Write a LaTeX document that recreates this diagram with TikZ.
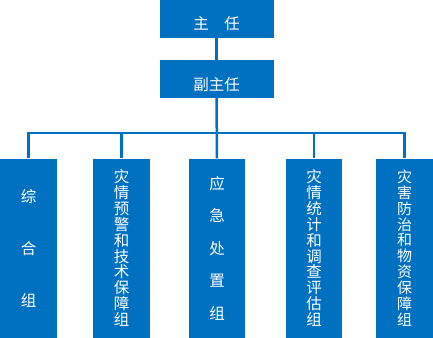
\documentclass[tikz,border=0pt]{standalone}
\usepackage{fontspec}
\setmainfont{Noto Sans CJK SC}
\usetikzlibrary{positioning}
\usepackage{xcolor}
\definecolor{orgblue}{RGB}{0,112,192}

\tikzset{
  headbox/.style={fill=orgblue, text=white, inner sep=0pt,
    minimum width=114pt, minimum height=38pt,
    font=\fontsize{15.5}{16}\selectfont, text height=22pt, text depth=0pt},
  groupbox/.style={fill=orgblue, text=white, inner sep=0pt, align=center,
    minimum width=57pt, minimum height=179pt},
  link/.style={draw=orgblue, line width=2.5pt}
}

\begin{document}
\begin{tikzpicture}[x=1pt, y=-1pt]
    \useasboundingbox (0,0) rectangle (433,337);
    % leadership
    \node[headbox] (zr) at (216.5,19) {主\hspace{1em}任};
    \node[headbox] (fzr) at (216.5,79) {副主任};
    % working groups
    \node[groupbox, font=\fontsize{15.5}{52}\selectfont] (zh) at (28.5,248)
      {综\\合\\组};
    \node[groupbox, font=\fontsize{15.5}{15.9}\selectfont] (yj) at (121.5,248)
      {灾\\情\\预\\警\\和\\技\\术\\保\\障\\组};
    \node[groupbox, minimum width=56pt, font=\fontsize{15.5}{32.5}\selectfont] (cz) at (217,248)
      {应\\急\\处\\置\\组};
    \node[groupbox, minimum width=56pt, font=\fontsize{15.5}{15.9}\selectfont] (tj) at (314,248)
      {灾\\情\\统\\计\\和\\调\\查\\评\\估\\组};
    \node[groupbox, font=\fontsize{15}{15.9}\selectfont] (fz) at (404.5,248)
      {灾\\害\\防\\治\\和\\物\\资\\保\\障\\组};
    % connectors
    \coordinate (bus) at (0,133);
    \draw[link] (zr.south) -- (fzr.north);
    \draw[link] (fzr.south) -- (cz.north);
    \draw[link] (zh.north) -- (zh.north |- bus) -- (fz.north |- bus) -- (fz.north);
    \foreach \g in {yj,tj}
      \draw[link] (\g.north) -- (\g.north |- bus);
\end{tikzpicture}
\end{document}
